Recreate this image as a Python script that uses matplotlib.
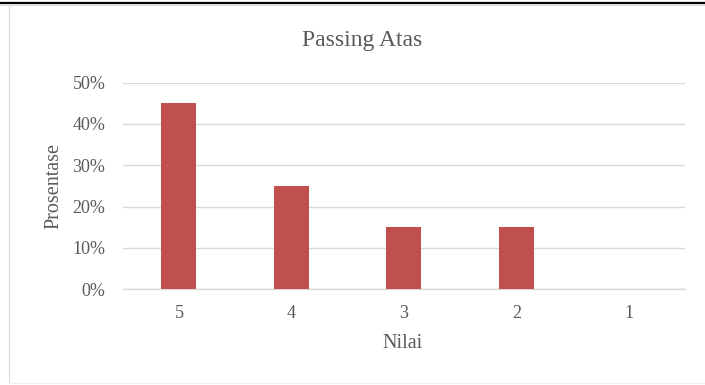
import matplotlib
matplotlib.use("Agg")
import matplotlib.pyplot as plt
from matplotlib.ticker import PercentFormatter
from matplotlib.lines import Line2D

categories = ["5", "4", "3", "2", "1"]
values = [0.45, 0.25, 0.15, 0.15, 0.0]
yticks = [0.0, 0.1, 0.2, 0.3, 0.4, 0.5]

plt.rcParams['font.family'] = ['Liberation Serif', 'DejaVu Serif']
text_color = "#595959"

W, H = 705, 385
fig = plt.figure(figsize=(W / 100, H / 100), dpi=100)
ax = fig.add_axes([122.7 / W, 1 - 289.3 / H, (685 - 122.7) / W, (289.3 - 82.5) / H])

x = list(range(len(categories)))
ax.bar(x, values, width=0.31, color="#C0504D", zorder=3)
ax.set_xlim(-0.5, len(categories) - 0.5)
ax.set_ylim(0, 0.5)
ax.set_yticks(yticks)
ax.yaxis.set_major_formatter(PercentFormatter(1.0, decimals=0))
ax.set_xticks(x)
ax.set_xticklabels(categories)
ax.grid(axis="y", color="#D9D9D9", linewidth=1.0, zorder=0)
ax.set_axisbelow(True)
for s in ["top", "right", "left"]:
    ax.spines[s].set_visible(False)
ax.spines["bottom"].set_color("#D9D9D9")
ax.spines["bottom"].set_linewidth(1.0)
ax.tick_params(axis="both", length=0, labelsize=13, colors=text_color)
ax.tick_params(axis="y", pad=12.5)
ax.tick_params(axis="x", pad=11.5)

fig.text(362 / W, 1 - 45.7 / H, "Passing Atas", ha="center", va="baseline",
         fontsize=17, color=text_color)
fig.text(403 / W, 1 - 348 / H, "Nilai", ha="center", va="baseline",
         fontsize=14.5, color=text_color)
fig.text(54 / W, 1 - 186 / H, "Prosentase", ha="center", va="center",
         rotation=90, fontsize=14.5, color=text_color)

# frame lines
fig.add_artist(Line2D([0, 1], [1 - 2.5 / H, 1 - 2.5 / H], color="black", linewidth=1.6))
fig.add_artist(Line2D([0, 1], [1 - 4.5 / H, 1 - 4.5 / H], color="#D9D9D9", linewidth=0.8))
fig.add_artist(Line2D([8.5 / W, 8.5 / W], [1 - 5 / H, 1 - 383 / H], color="#D9D9D9", linewidth=0.8))
fig.add_artist(Line2D([8.5 / W, 1], [1 - 383 / H, 1 - 383 / H], color="#EEEEEE", linewidth=0.8))

fig.savefig("out.png", dpi=100)
